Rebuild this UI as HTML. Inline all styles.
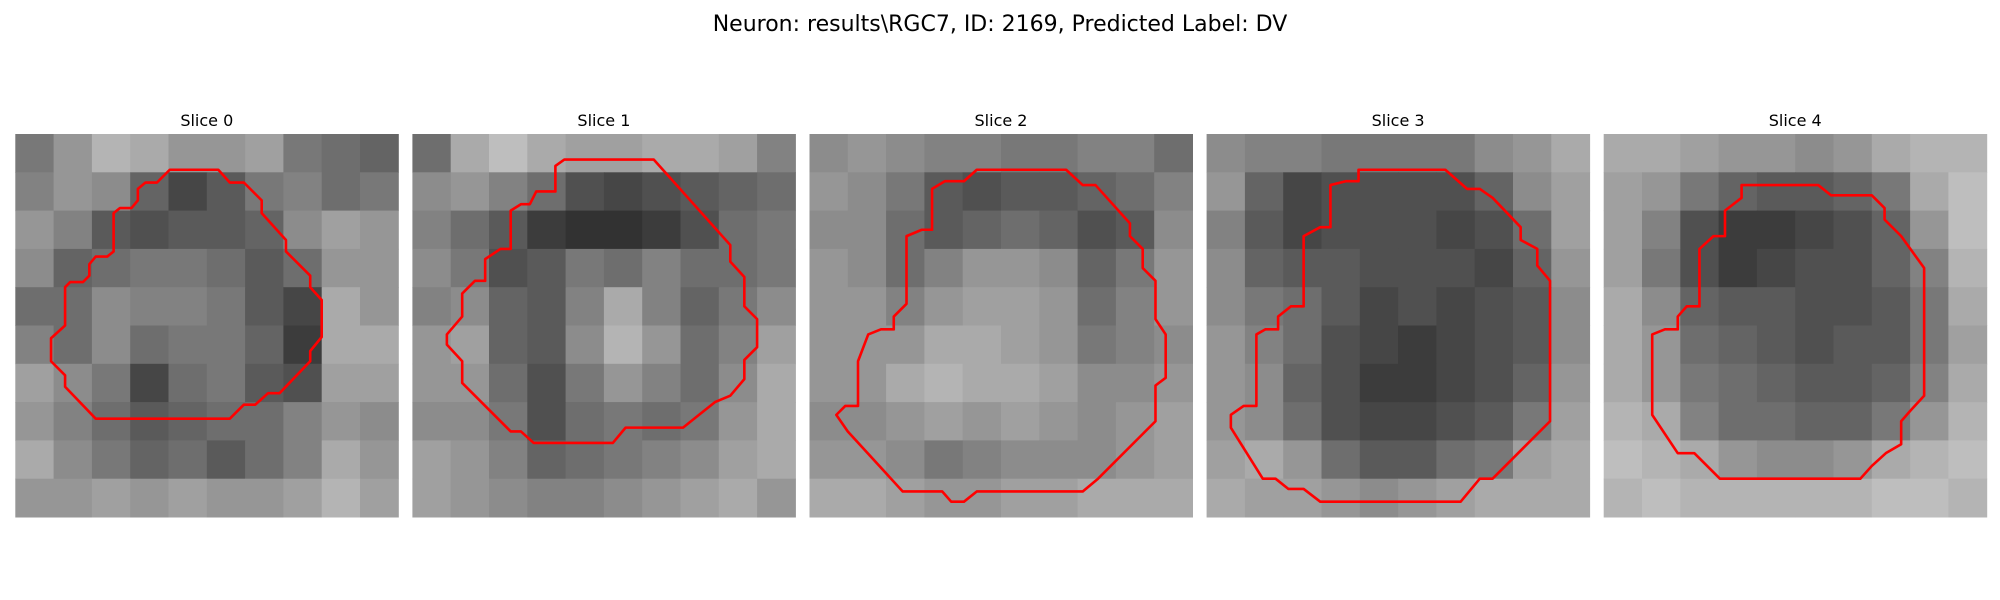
<!DOCTYPE html>
<html><head><meta charset="utf-8">
<style>
html,body{margin:0;padding:0;background:#fff;}
svg{display:block;}
text{font-family:"DejaVu Sans","Liberation Sans",sans-serif;fill:#000;}
</style></head>
<body>
<svg id="fig" width="2000" height="600" viewBox="0 0 2000 600" xmlns="http://www.w3.org/2000/svg">
<text x="1000" y="31" font-size="22" text-anchor="middle">Neuron: results\RGC7, ID: 2169, Predicted Label: DV</text>
</svg>
<script>
const sliceTitles = ["Slice 0","Slice 1","Slice 2","Slice 3","Slice 4"];
const gridSize = 30;
const img0 = [
[120,150,180,170,150,150,160,120,110,100],[130,150,140,100,70,90,120,130,110,120],[150,130,90,80,90,90,100,140,160,150],[140,100,110,120,120,110,90,110,150,150],[110,110,140,130,130,120,90,70,170,150],[130,110,140,110,120,120,100,60,170,170],[160,140,120,70,110,120,90,80,160,160],[150,130,110,90,100,110,110,130,150,140],[170,140,120,100,110,90,110,130,170,150],[150,150,160,150,160,150,150,160,180,160]];
const img1 = [
[110,170,190,170,160,160,170,170,160,130],[140,150,130,110,80,70,80,90,100,110],[130,110,90,60,50,50,60,80,110,120],[140,120,80,90,120,110,130,110,110,120],[130,140,100,90,130,170,130,100,120,140],[150,160,100,90,140,180,150,110,130,160],[150,150,110,80,120,150,130,110,140,170],[140,140,120,80,110,120,110,120,150,170],[160,150,130,100,110,120,130,140,160,170],[160,150,140,130,130,140,150,160,170,150]];
const img2 = [
[140,150,140,130,130,120,120,130,130,110],[150,140,120,90,80,90,90,100,110,130],[140,140,110,90,100,110,100,80,90,140],[150,140,110,130,150,150,140,100,120,150],[150,150,130,150,160,160,150,110,130,150],[150,150,150,170,170,160,150,120,130,140],[150,150,170,180,170,170,160,140,140,150],[140,140,150,160,150,160,150,140,150,160],[150,150,140,120,130,140,140,140,150,160],[170,170,160,150,150,160,160,170,170,170]];
const img3 = [
[140,130,130,120,120,120,120,140,150,170],[150,100,70,80,80,80,80,100,140,160],[130,90,70,80,80,80,70,80,110,160],[140,100,90,90,80,80,80,70,100,150],[140,120,110,90,70,80,70,80,90,140],[150,130,110,80,70,60,70,80,90,140],[150,140,100,80,60,60,70,80,100,150],[150,140,110,80,70,70,80,90,120,160],[160,170,150,110,90,90,110,120,160,170],[170,160,160,150,140,150,160,170,170,170]];
const img4 = [
[170,170,160,150,150,140,150,170,180,180],[160,150,120,100,90,90,100,120,170,190],[160,130,80,60,60,70,80,100,150,190],[160,120,80,60,70,80,80,100,130,180],[170,140,100,90,90,80,80,90,120,170],[170,150,110,100,90,80,90,90,120,160],[170,150,120,110,100,90,90,100,130,170],[180,170,130,110,110,100,100,120,150,180],[190,180,170,150,140,140,150,170,180,190],[180,190,180,180,180,180,180,190,190,180]];
const contour0 = [[12.1,2.8],[15.9,2.8],[16.8,3.8],[17.9,3.8],[19.3,5.2],[19.3,6.2],[21.2,8.3],[21.2,9.2],[23.1,11.1],[23.1,12],[24,13],[24,15.9],[23.1,17],[23.1,17.8],[20.7,20.3],[19.8,20.3],[18.8,21.2],[17.9,21.2],[16.8,22.3],[6.3,22.3],[3.9,19.8],[3.9,18.9],[2.8,17.8],[2.8,16],[3.9,15],[3.9,12],[4.3,11.6],[5.3,11.6],[5.8,11.1],[5.8,10.2],[6.3,9.6],[7.2,9.6],[7.7,9.2],[7.7,6.2],[8.2,5.8],[9.1,5.8],[9.6,5.2],[9.6,4.3],[10.2,3.8],[11.1,3.8]];
const contour1 = [[11.9,2],[18.9,2],[24.9,8.7],[24.9,10],[26,11.2],[26,13.5],[27,14.5],[27,16.7],[26,17.7],[26,19.2],[24.9,20.5],[23.7,21],[22.2,22.2],[21.2,23],[16.7,23],[15.7,24.2],[9.5,24.2],[8.5,23.3],[7.7,23.3],[3.9,19.5],[3.9,17.8],[2.7,16.5],[2.7,15.7],[3.9,14.3],[3.9,12.5],[4.9,11.5],[5.7,11.5],[5.7,9.8],[6.9,9],[7.7,9],[7.7,6],[8.5,5.5],[9.2,5.5],[9.7,4.5],[11.2,4.5],[11.2,2.5]];
const contour2 = [[13.1,2.8],[20.1,2.8],[21.4,4],[22.4,4],[25.1,7],[25.1,8],[26.1,9],[26.1,10.5],[27.1,11.5],[27.1,14.5],[27.9,15.7],[27.9,19.1],[27.1,19.7],[27.1,22.5],[26.1,23.5],[22.6,27],[21.4,28],[13.1,28],[12.1,28.8],[11.1,28.8],[10.4,28],[7.3,28],[3,23.3],[2.1,22],[2.8,21.3],[3.8,21.3],[3.8,17.8],[4.6,15.7],[5.6,15.3],[6.6,15.3],[6.6,14.3],[7.6,13.3],[7.6,8],[8.8,7.5],[9.6,7.5],[9.6,4.3],[10.6,3.7],[12.1,3.7]];
const contour3 = [[11.9,2.8],[18.7,2.8],[20.4,4.3],[21.4,4.3],[22.4,5],[24.6,7.3],[24.6,8.3],[25.9,9],[25.9,10.3],[26.9,11.5],[26.9,22.5],[22.4,27],[21.4,27],[19.9,28.8],[8.9,28.8],[7.6,27.8],[6.4,27.8],[5.4,27],[4.4,27],[1.9,23],[1.9,22],[2.9,21.3],[3.9,21.3],[3.9,15.7],[4.6,15.3],[5.6,15.3],[5.6,14.3],[6.6,13.5],[7.6,13.5],[7.6,8],[8.9,7.3],[9.7,7.3],[9.7,4],[10.9,3.7],[11.9,3.7]];
const contour4 = [[10.8,4],[16.8,4],[17.8,4.8],[21,4.8],[22,5.8],[22,6.7],[23.3,8],[25.1,10.5],[25.1,20.5],[24,21.7],[23.3,22.5],[23.3,24.3],[22.1,25],[21,26],[20.1,27],[9.1,27],[7.1,25],[5.8,25],[3.8,22],[3.8,15.7],[4.8,15.3],[5.8,15.3],[5.8,14.3],[6.5,13.5],[7.5,13.5],[7.5,9],[8.6,8],[9.5,8],[9.5,6],[10.8,5]];

const images=[img0,img1,img2,img3,img4];
const contours=[contour0,contour1,contour2,contour3,contour4];
const NS="http://www.w3.org/2000/svg";
const svg=document.getElementById('fig');
const panelLeft=i=>15.3+i*397.1;
const panelTop=134, panelSize=383;
function sx(i,v){return panelLeft(i)+v/gridSize*panelSize;}
function sy(v){return panelTop+v/gridSize*panelSize;}
images.forEach((img,i)=>{
  const g=document.createElementNS(NS,'g');
  
  
  svg.appendChild(g);
  const t=document.createElementNS(NS,'text');
  
  
  t.setAttribute('x',panelLeft(i)+panelSize/2);t.setAttribute('y',126);
  t.setAttribute('font-size','16');t.setAttribute('text-anchor','middle');
  t.textContent=sliceTitles[i];g.appendChild(t);
  const n=img.length, step=gridSize/n;
  img.forEach((row,r)=>row.forEach((v,c)=>{
    const rc=document.createElementNS(NS,'rect');
    
    
    const x0=sx(i,c*step),x1=sx(i,(c+1)*step),y0=sy(r*step),y1=sy((r+1)*step);
    rc.setAttribute('x',x0);rc.setAttribute('y',y0);
    rc.setAttribute('width',x1-x0+0.5);rc.setAttribute('height',y1-y0+0.5);
    rc.setAttribute('fill',`rgb(${v},${v},${v})`);
    g.appendChild(rc);
  }));
  const p=document.createElementNS(NS,'polygon');
  
  
  p.setAttribute('points',contours[i].map(q=>sx(i,q[0])+','+sy(q[1])).join(' '));
  p.setAttribute('fill','none');p.setAttribute('stroke','#ff0000');
  p.setAttribute('stroke-width','2.6');p.setAttribute('stroke-linejoin','round');
  g.appendChild(p);
});
</script>
</body></html>
